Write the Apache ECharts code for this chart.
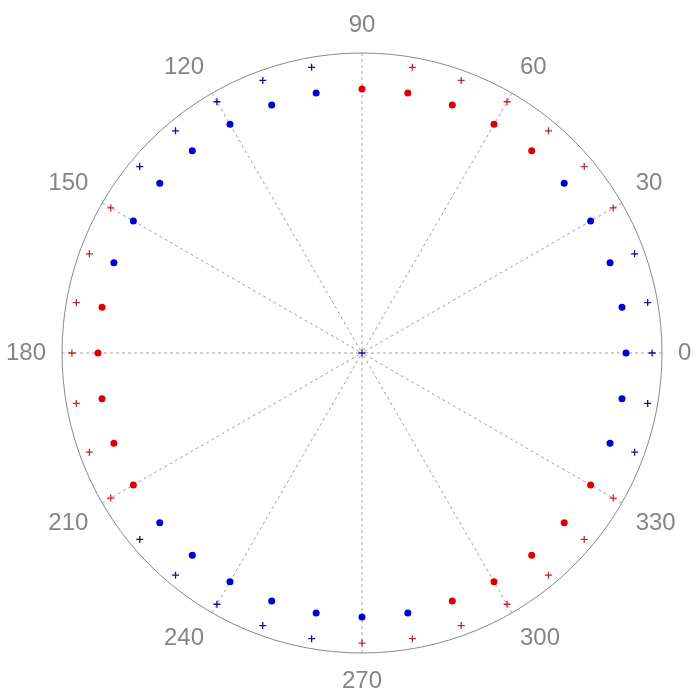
<!DOCTYPE html>
<html>
<head>
<meta charset="utf-8">
<script src="https://cdn.jsdelivr.net/npm/echarts@6/dist/echarts.min.js"></script>
<style>
  html, body { margin: 0; padding: 0; background: #fff; }
  #chart { width: 696px; height: 694px; }
</style>
</head>
<body>
<div id="chart"></div>
<script>
// radii (axis goes 0..1)
const dotRadius = 0.88;
const plusRadius = 0.967;

// angles in degrees, grouped by marker and colour
const blueDotAngles = [0, 10, 20, 30, 40, 100, 110, 120, 130, 140, 150, 160, 220, 230, 240, 250, 260, 270, 280, 340, 350];
const redDotAngles = [50, 60, 70, 80, 90, 170, 180, 190, 200, 210, 290, 300, 310, 320, 330];
const bluePlusAngles = [0, 10, 20, 100, 110, 120, 130, 140, 220, 230, 240, 250, 260, 340, 350];
const redPlusAngles = [30, 40, 50, 60, 70, 80, 150, 160, 170, 180, 190, 200, 210, 270, 280, 290, 300, 310, 320, 330];
// the 90 deg plus sits at the origin
const originPlus = [[0, 90]];

const BLUE = "#0000d0";
const RED = "#dc0000";
const PLUS = "path://M2.45,0H3.55V2.45H6V3.55H3.55V6H2.45V3.55H0V2.45H2.45Z";

const toPoints = (angles, r) => angles.map((a) => [r, a]);

const chart = echarts.init(document.getElementById("chart"));

chart.setOption({
  backgroundColor: "#fff",
  animation: false,
  polar: {
    center: [362, 353],
    radius: 300,
  },
  angleAxis: {
    type: "value",
    min: 0,
    max: 360,
    interval: 30,
    startAngle: 0,
    clockwise: false,
    axisLine: { lineStyle: { color: "#8a8a8a", width: 1 } },
    axisTick: { show: false },
    axisLabel: {
      margin: 16,
      color: "#858585",
      fontSize: 24,
      fontFamily: "Liberation Sans, Arial, sans-serif",
    },
    splitLine: {
      show: true,
      lineStyle: { color: "#a2a2a2", width: 1, type: [3, 3] },
    },
  },
  radiusAxis: {
    type: "value",
    min: 0,
    max: 1,
    axisLine: { show: false },
    axisTick: { show: false },
    axisLabel: { show: false },
    splitLine: { show: false },
  },
  series: [
    {
      type: "scatter",
      coordinateSystem: "polar",
      symbol: "circle",
      symbolSize: 7,
      itemStyle: { color: BLUE, opacity: 1 },
      data: toPoints(blueDotAngles, dotRadius),
    },
    {
      type: "scatter",
      coordinateSystem: "polar",
      symbol: "circle",
      symbolSize: 7,
      itemStyle: { color: RED, opacity: 1 },
      data: toPoints(redDotAngles, dotRadius),
    },
    {
      type: "scatter",
      coordinateSystem: "polar",
      symbol: PLUS,
      symbolSize: 7,
      itemStyle: { color: "#10108c", opacity: 1 },
      data: toPoints(bluePlusAngles, plusRadius).concat(originPlus),
    },
    {
      type: "scatter",
      coordinateSystem: "polar",
      symbol: PLUS,
      symbolSize: 7,
      itemStyle: { color: "#c02828", opacity: 1 },
      data: toPoints(redPlusAngles, plusRadius),
    },
  ],
});
</script>
</body>
</html>
